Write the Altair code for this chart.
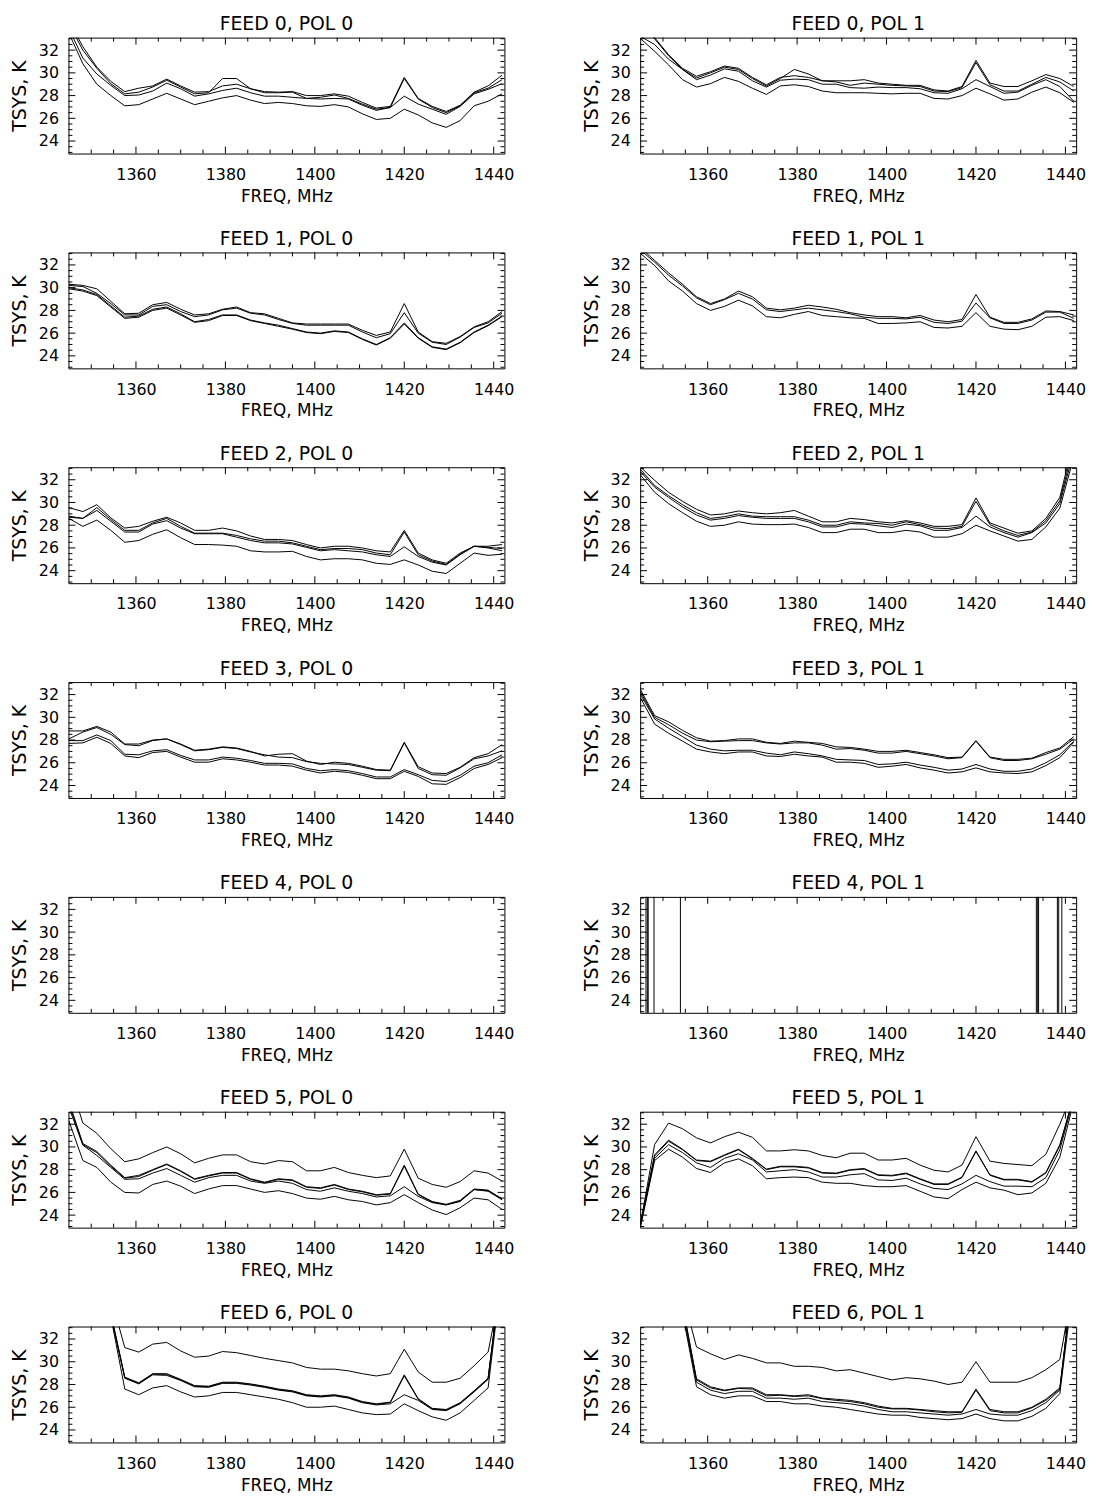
import altair as alt
import pandas as pd

# ---- channel frequencies (MHz) ----
FREQ = [1345.0, 1348.125, 1351.25, 1354.375, 1357.5, 1360.625, 1363.75, 1366.875,
        1370.0, 1373.125, 1376.25, 1379.375, 1382.5, 1385.625, 1388.75, 1391.875,
        1395.0, 1398.125, 1401.25, 1404.375, 1407.5, 1410.625, 1413.75, 1416.875,
        1420.0, 1423.125, 1426.25, 1429.375, 1432.5, 1435.625, 1438.75, 1441.875]

# ---- axis ticks ----
X_MAJOR = [1360, 1380, 1400, 1420, 1440]
X_MINOR = [1350, 1355, 1365, 1370, 1375, 1385, 1390, 1395, 1405, 1410, 1415, 1425, 1430, 1435]
Y_MAJOR = [24, 26, 28, 30, 32]
Y_MINOR = [23.0, 23.5, 24.5, 25.0, 25.5, 26.5, 27.0, 27.5, 28.5, 29.0, 29.5, 30.5, 31.0, 31.5, 32.5, 33.0]

# ---- FEED 0 ----
f0p0_a = [34.6, 32.3, 30.5, 29.25, 28.35, 28.65, 28.85, 29.45, 28.85, 28.3, 28.35, 28.85, 29.0, 28.6, 28.35, 28.3, 28.35, 28.0, 28.0, 28.15, 27.95, 27.4, 26.9, 27.05, 29.6, 27.75, 27.05, 26.6, 27.15, 28.3, 28.85, 29.8]
f0p0_b = [34.3, 32.0, 30.4, 29.05, 28.15, 28.3, 28.75, 29.35, 28.75, 28.15, 28.25, 29.5, 29.5, 28.6, 28.25, 28.25, 28.3, 27.75, 27.85, 28.05, 27.75, 27.25, 26.8, 26.95, 29.5, 27.7, 26.95, 26.5, 27.1, 28.25, 28.65, 29.4]
f0p0_c = [33.9, 31.3, 29.9, 28.9, 28.0, 28.05, 28.4, 29.1, 28.6, 27.95, 28.15, 28.45, 28.65, 28.25, 27.95, 27.95, 27.85, 27.75, 27.7, 27.75, 27.7, 27.15, 26.7, 26.95, 27.95, 27.25, 26.8, 26.35, 27.05, 28.15, 28.55, 29.05]
f0p0_d = [33.5, 30.8, 29.0, 28.0, 27.1, 27.2, 27.7, 28.2, 27.7, 27.2, 27.5, 27.8, 28.0, 27.6, 27.3, 27.4, 27.3, 27.1, 27.05, 27.2, 27.0, 26.4, 25.9, 26.0, 26.8, 26.3, 25.6, 25.2, 25.8, 27.1, 27.5, 28.15]

f0p1_a = [35.0, 33.1, 31.6, 30.4, 29.7, 30.1, 30.6, 30.4, 29.6, 28.95, 29.6, 29.75, 29.6, 29.3, 29.3, 29.3, 29.4, 29.1, 29.0, 28.9, 28.9, 28.5, 28.4, 28.8, 31.1, 29.1, 28.8, 28.8, 29.3, 29.85, 29.5, 28.8]
f0p1_b = [34.8, 33.0, 31.5, 30.3, 29.55, 30.0, 30.5, 30.3, 29.5, 28.85, 29.5, 30.3, 29.9, 29.3, 29.2, 28.9, 29.1, 29.0, 28.9, 28.85, 28.8, 28.4, 28.35, 28.7, 30.9, 28.95, 28.4, 28.4, 29.0, 29.6, 29.2, 28.4]
f0p1_c = [33.2, 32.5, 31.2, 30.3, 29.4, 29.8, 30.35, 30.15, 29.3, 28.75, 29.35, 29.45, 29.4, 29.0, 29.0, 28.7, 28.65, 28.75, 28.7, 28.7, 28.6, 28.25, 28.2, 28.6, 29.4, 28.8, 28.2, 28.3, 28.9, 29.4, 28.8, 27.5]
f0p1_d = [33.0, 31.9, 30.7, 29.4, 28.75, 29.05, 29.6, 29.25, 28.65, 28.1, 28.85, 28.95, 28.8, 28.4, 28.25, 28.25, 28.25, 28.2, 28.15, 28.2, 28.2, 27.75, 27.7, 28.0, 28.65, 28.15, 27.6, 27.7, 28.3, 28.75, 28.25, 27.4]

# ---- FEED 1 ----
f1p0_a = [30.3, 30.2, 29.9, 28.8, 27.7, 27.75, 28.5, 28.7, 28.1, 27.6, 27.7, 28.1, 28.3, 27.8, 27.7, 27.3, 26.9, 26.8, 26.8, 26.8, 26.8, 26.25, 25.8, 26.1, 28.6, 26.1, 25.25, 25.1, 25.7, 26.55, 27.0, 27.9]
f1p0_b = [30.2, 30.1, 29.5, 28.6, 27.6, 27.6, 28.35, 28.5, 27.9, 27.45, 27.6, 28.05, 28.2, 27.75, 27.6, 27.2, 26.85, 26.7, 26.7, 26.7, 26.7, 26.1, 25.6, 25.95, 27.8, 26.0, 25.2, 25.0, 25.65, 26.5, 26.9, 27.75]
f1p0_c = [30.0, 29.8, 29.4, 28.4, 27.4, 27.5, 28.1, 28.3, 27.7, 27.0, 27.2, 27.6, 27.6, 27.15, 26.9, 26.7, 26.4, 26.1, 26.0, 26.2, 26.1, 25.5, 25.0, 25.6, 26.9, 25.6, 24.8, 24.6, 25.2, 26.1, 26.7, 27.5]
f1p0_d = [29.9, 29.7, 29.3, 28.3, 27.3, 27.4, 28.0, 28.2, 27.6, 26.95, 27.1, 27.55, 27.55, 27.1, 26.85, 26.6, 26.35, 26.05, 25.95, 26.15, 26.05, 25.45, 24.95, 25.55, 26.8, 25.55, 24.75, 24.55, 25.15, 26.05, 26.65, 27.45]

f1p1_a = [33.5, 32.4, 31.3, 30.3, 29.2, 28.6, 29.0, 29.7, 29.2, 28.2, 28.05, 28.2, 28.45, 28.3, 28.1, 27.8, 27.6, 27.45, 27.45, 27.35, 27.55, 27.15, 27.0, 27.2, 29.4, 27.4, 26.95, 26.95, 27.25, 27.95, 27.9, 27.6]
f1p1_b = [33.3, 32.25, 31.1, 30.15, 29.1, 28.5, 28.95, 29.5, 29.0, 28.05, 27.9, 28.05, 28.2, 28.05, 27.9, 27.7, 27.4, 27.3, 27.3, 27.25, 27.4, 26.95, 26.85, 27.05, 28.65, 27.35, 26.85, 26.85, 27.15, 27.85, 27.85, 27.3]
f1p1_c = [33.0, 31.95, 30.6, 29.7, 28.6, 28.0, 28.35, 28.9, 28.4, 27.45, 27.35, 27.65, 27.9, 27.55, 27.45, 27.35, 27.3, 26.85, 26.85, 26.9, 27.0, 26.5, 26.45, 26.6, 27.8, 26.6, 26.35, 26.3, 26.6, 27.4, 27.45, 27.1]

# ---- FEED 2 ----
f2p0_a = [29.55, 29.2, 29.8, 28.65, 27.75, 27.9, 28.35, 28.7, 28.2, 27.55, 27.55, 27.75, 27.5, 27.05, 26.75, 26.75, 26.65, 26.3, 26.0, 26.15, 26.15, 26.0, 25.75, 25.65, 27.55, 25.55, 24.95, 24.65, 25.55, 26.15, 26.15, 26.3]
f2p0_b = [28.8, 28.6, 29.55, 28.5, 27.55, 27.55, 28.2, 28.6, 27.9, 27.3, 27.3, 27.3, 27.1, 26.8, 26.6, 26.6, 26.45, 26.15, 25.85, 25.95, 25.95, 25.85, 25.55, 25.4, 27.4, 25.4, 24.85, 24.55, 25.45, 26.15, 26.05, 25.95]
f2p0_c = [28.7, 28.6, 29.3, 28.35, 27.4, 27.4, 28.1, 28.4, 27.75, 27.25, 27.25, 27.25, 26.95, 26.65, 26.45, 26.45, 26.35, 26.05, 25.75, 25.85, 25.75, 25.65, 25.4, 25.25, 26.1, 25.25, 24.75, 24.5, 25.4, 26.15, 26.0, 25.75]
f2p0_d = [28.6, 27.9, 28.45, 27.55, 26.5, 26.65, 27.2, 27.6, 26.9, 26.3, 26.3, 26.25, 26.15, 25.75, 25.65, 25.65, 25.7, 25.25, 24.95, 25.05, 25.05, 24.95, 24.65, 24.55, 24.95, 24.5, 23.95, 23.75, 24.65, 25.55, 25.35, 25.45]

f2p1_a = [33.1, 31.95, 30.9, 30.1, 29.4, 28.9, 29.0, 29.25, 29.1, 29.0, 29.1, 29.3, 28.8, 28.3, 28.3, 28.6, 28.5, 28.3, 28.2, 28.4, 28.2, 27.9, 27.9, 28.05, 30.4, 28.2, 27.75, 27.3, 27.5, 28.6, 30.45, 35.5]
f2p1_b = [32.9, 31.5, 30.6, 29.8, 29.1, 28.6, 28.75, 29.0, 28.8, 28.75, 28.75, 28.75, 28.45, 28.0, 28.0, 28.3, 28.2, 28.15, 28.0, 28.3, 28.05, 27.75, 27.7, 27.9, 30.1, 28.05, 27.5, 27.1, 27.4, 28.4, 30.15, 35.0]
f2p1_c = [32.7, 31.35, 30.45, 29.6, 28.9, 28.45, 28.6, 28.85, 28.7, 28.6, 28.6, 28.6, 28.3, 27.85, 27.85, 28.15, 28.1, 27.95, 27.8, 28.1, 27.95, 27.55, 27.55, 27.8, 28.8, 27.85, 27.35, 26.95, 27.35, 28.2, 29.9, 34.5]
f2p1_d = [32.4, 30.9, 29.9, 29.1, 28.35, 27.9, 28.0, 28.3, 28.1, 28.05, 28.05, 28.1, 27.8, 27.35, 27.35, 27.65, 27.65, 27.35, 27.35, 27.55, 27.4, 26.95, 26.95, 27.25, 28.0, 27.5, 27.05, 26.6, 26.75, 27.85, 29.5, 34.0]

# ---- FEED 3 ----
f3p0_a = [28.8, 28.8, 29.2, 28.7, 27.65, 27.65, 28.0, 28.1, 27.65, 27.1, 27.2, 27.4, 27.3, 27.0, 26.6, 26.75, 26.8, 26.15, 25.85, 26.05, 25.95, 25.7, 25.4, 25.35, 27.8, 25.65, 25.1, 25.05, 25.6, 26.45, 26.8, 27.6]
f3p0_b = [28.1, 28.7, 29.1, 28.5, 27.6, 27.5, 27.95, 28.1, 27.6, 27.05, 27.15, 27.35, 27.25, 26.95, 26.7, 26.5, 26.45, 26.1, 25.95, 25.9, 25.85, 25.6, 25.35, 25.3, 27.75, 25.5, 24.95, 24.9, 25.55, 26.35, 26.6, 27.05]
f3p0_c = [27.95, 27.95, 28.45, 27.95, 26.75, 26.7, 27.05, 27.15, 26.65, 26.25, 26.25, 26.5, 26.4, 26.2, 25.95, 25.95, 25.9, 25.5, 25.3, 25.4, 25.3, 25.05, 24.75, 24.75, 25.4, 24.95, 24.45, 24.35, 24.9, 25.7, 26.0, 26.7]
f3p0_d = [27.7, 27.75, 28.25, 27.7, 26.6, 26.45, 26.9, 27.0, 26.5, 26.05, 26.05, 26.35, 26.25, 26.05, 25.8, 25.8, 25.7, 25.35, 25.1, 25.25, 25.15, 24.9, 24.6, 24.6, 25.25, 24.8, 24.15, 24.1, 24.7, 25.5, 25.85, 26.45]

f3p1_a = [32.4, 30.15, 29.6, 28.85, 28.2, 27.9, 27.95, 28.1, 28.1, 27.8, 27.7, 27.9, 27.8, 27.7, 27.4, 27.35, 27.2, 27.0, 27.0, 27.1, 26.9, 26.7, 26.45, 26.5, 27.95, 26.5, 26.3, 26.3, 26.4, 26.9, 27.3, 28.3]
f3p1_b = [32.2, 30.0, 29.35, 28.6, 28.0, 27.85, 27.9, 27.95, 27.95, 27.75, 27.65, 27.75, 27.75, 27.55, 27.2, 27.25, 27.1, 26.85, 26.85, 27.0, 26.8, 26.6, 26.35, 26.45, 27.9, 26.45, 26.2, 26.2, 26.35, 26.75, 27.2, 28.1]
f3p1_c = [32.0, 29.85, 29.05, 28.3, 27.55, 27.2, 27.05, 27.1, 27.1, 26.85, 26.7, 26.95, 26.8, 26.6, 26.3, 26.25, 26.2, 25.85, 25.9, 26.05, 25.8, 25.6, 25.35, 25.45, 25.85, 25.45, 25.25, 25.25, 25.45, 26.0, 26.7, 27.9]
f3p1_d = [31.7, 29.4, 28.6, 27.9, 27.2, 26.95, 26.8, 26.95, 26.95, 26.6, 26.55, 26.75, 26.6, 26.5, 26.05, 26.05, 25.95, 25.6, 25.7, 25.85, 25.55, 25.35, 25.1, 25.2, 25.55, 25.2, 25.1, 25.05, 25.2, 25.75, 26.45, 27.8]

# ---- FEED 4 (pol 0 empty; pol 1 only off-scale spikes) ----
f4p1_spikes = [1346.2, 1346.5, 1346.7, 1348.0, 1353.9, 1433.5, 1433.8, 1434.0, 1438.2, 1438.5, 1439.2]

# ---- FEED 5 ----
f5p0_a = [36.0, 32.1, 31.2, 29.85, 28.7, 28.95, 29.5, 30.0, 29.4, 28.6, 29.0, 29.3, 29.3, 28.7, 28.5, 28.8, 28.7, 27.9, 27.9, 28.2, 27.75, 27.5, 27.3, 27.45, 29.8, 27.25, 26.7, 26.45, 26.95, 27.9, 27.7, 27.0]
f5p0_b = [34.0, 30.3, 29.6, 28.4, 27.3, 27.5, 28.0, 28.5, 27.9, 27.2, 27.5, 27.75, 27.75, 27.2, 26.9, 27.2, 27.1, 26.5, 26.4, 26.7, 26.3, 26.1, 25.8, 25.9, 28.4, 25.85, 25.2, 24.95, 25.3, 26.3, 26.2, 25.4]
f5p0_e = [33.8, 30.2, 29.5, 28.3, 27.25, 27.4, 27.95, 28.45, 27.85, 27.15, 27.45, 27.7, 27.7, 27.15, 26.85, 27.15, 27.05, 26.45, 26.35, 26.65, 26.25, 26.05, 25.75, 25.85, 28.3, 25.8, 25.15, 24.9, 25.25, 26.25, 26.15, 25.45]
f5p0_c = [33.5, 30.15, 29.25, 28.2, 27.15, 27.2, 27.7, 28.1, 27.5, 26.9, 27.3, 27.5, 27.5, 27.0, 26.8, 27.0, 26.8, 26.25, 26.1, 26.4, 26.1, 25.9, 25.6, 25.7, 26.5, 25.65, 25.1, 24.9, 25.2, 26.25, 26.1, 25.35]
f5p0_d = [32.3, 28.8, 28.2, 26.9, 26.0, 25.95, 26.7, 27.0, 26.55, 25.9, 26.3, 26.6, 26.6, 26.3, 26.0, 26.15, 25.9, 25.5, 25.4, 25.65, 25.35, 25.2, 24.9, 25.1, 25.8, 25.1, 24.45, 24.05, 24.65, 25.5, 25.35, 24.5]

f5p1_a = [23.3, 30.2, 32.1, 31.6, 30.8, 30.35, 30.9, 31.3, 30.85, 29.65, 29.65, 29.75, 29.65, 29.25, 29.05, 29.45, 29.45, 28.85, 28.85, 29.0, 28.4, 27.95, 27.8, 28.4, 30.9, 28.75, 28.55, 28.45, 28.35, 29.35, 32.0, 35.0]
f5p1_b = [23.3, 29.3, 30.6, 29.8, 28.85, 28.75, 29.3, 29.8, 29.0, 28.05, 28.3, 28.3, 28.2, 27.75, 27.7, 28.0, 28.1, 27.55, 27.5, 27.7, 27.2, 26.75, 26.75, 27.35, 29.65, 27.55, 27.15, 27.15, 26.95, 27.75, 30.2, 34.5]
f5p1_e = [23.2, 29.2, 30.5, 29.75, 28.8, 28.7, 29.25, 29.75, 28.95, 28.0, 28.25, 28.25, 28.15, 27.7, 27.65, 27.95, 28.05, 27.5, 27.45, 27.65, 27.15, 26.7, 26.7, 27.3, 29.6, 27.5, 27.1, 27.1, 26.9, 27.7, 30.1, 34.4]
f5p1_c = [23.15, 29.0, 30.2, 29.5, 28.6, 28.2, 29.0, 29.4, 28.85, 27.8, 27.9, 28.0, 27.8, 27.35, 27.35, 27.55, 27.65, 27.1, 27.05, 27.25, 26.75, 26.35, 26.25, 26.75, 27.5, 26.95, 26.55, 26.55, 26.5, 27.3, 29.75, 34.3]
f5p1_d = [23.0, 28.8, 29.8, 29.1, 28.1, 27.75, 28.6, 28.95, 28.35, 27.2, 27.3, 27.35, 27.3, 26.9, 26.8, 26.8, 26.6, 26.5, 26.5, 26.6, 26.1, 25.6, 25.45, 26.25, 26.9, 26.4, 26.2, 25.8, 25.95, 26.8, 29.1, 34.0]

# ---- FEED 6 ----
f6p0_a = [45.0, 42.0, 39.0, 35.7, 31.25, 30.85, 31.55, 31.7, 30.95, 30.4, 30.5, 30.9, 30.8, 30.55, 30.3, 30.1, 29.9, 29.5, 29.35, 29.35, 29.2, 28.95, 28.75, 28.95, 31.1, 29.1, 28.2, 28.2, 28.55, 29.65, 30.85, 37.1]
f6p0_b = [44.0, 41.0, 38.0, 34.3, 28.65, 28.15, 28.95, 28.95, 28.45, 27.9, 27.85, 28.2, 28.2, 28.05, 27.85, 27.6, 27.45, 27.1, 27.0, 27.1, 26.9, 26.5, 26.3, 26.45, 28.85, 26.75, 25.9, 25.8, 26.4, 27.45, 28.55, 38.5]
f6p0_e = [44.0, 41.0, 38.0, 34.2, 28.6, 28.1, 28.9, 28.9, 28.4, 27.85, 27.8, 28.15, 28.15, 28.0, 27.8, 27.55, 27.4, 27.05, 26.95, 27.05, 26.85, 26.45, 26.25, 26.4, 28.75, 26.7, 25.85, 25.75, 26.35, 27.4, 28.5, 38.4]
f6p0_c = [44.0, 41.0, 38.0, 34.1, 28.55, 28.05, 28.85, 28.8, 28.35, 27.8, 27.75, 28.1, 28.1, 27.95, 27.75, 27.5, 27.35, 27.0, 26.9, 27.0, 26.8, 26.4, 26.2, 26.3, 27.1, 26.6, 25.8, 25.7, 26.3, 27.35, 28.45, 38.3]
f6p0_d = [43.0, 40.0, 37.0, 34.0, 27.6, 27.1, 27.7, 27.9, 27.35, 26.9, 27.0, 27.3, 27.3, 27.1, 26.9, 26.7, 26.4, 26.0, 26.0, 26.1, 25.8, 25.5, 25.35, 25.4, 26.3, 25.7, 25.15, 24.85, 25.5, 26.6, 27.7, 38.0]

f6p1_a = [45.0, 42.0, 39.0, 36.0, 31.3, 30.7, 30.2, 30.6, 30.3, 29.9, 29.9, 29.6, 29.6, 29.5, 29.2, 29.3, 29.0, 28.7, 28.4, 28.6, 28.5, 28.3, 28.0, 28.2, 30.0, 28.2, 28.2, 28.2, 28.6, 29.3, 30.2, 37.0]
f6p1_b = [44.0, 41.0, 38.0, 35.0, 28.5, 27.8, 27.5, 27.7, 27.7, 27.1, 27.1, 27.0, 27.1, 26.8, 26.7, 26.6, 26.4, 26.1, 25.9, 25.9, 25.8, 25.7, 25.6, 25.6, 27.6, 25.8, 25.6, 25.6, 26.0, 26.7, 27.7, 38.0]
f6p1_e = [44.0, 41.0, 38.0, 35.0, 28.4, 27.7, 27.45, 27.65, 27.6, 27.0, 27.05, 26.95, 27.0, 26.75, 26.6, 26.5, 26.3, 26.0, 25.85, 25.85, 25.75, 25.6, 25.5, 25.55, 27.5, 25.7, 25.5, 25.5, 25.95, 26.6, 27.6, 37.9]
f6p1_c = [43.0, 40.0, 37.0, 34.5, 28.2, 27.5, 27.2, 27.4, 27.4, 26.8, 26.8, 26.7, 26.8, 26.5, 26.4, 26.3, 26.1, 25.8, 25.6, 25.6, 25.5, 25.4, 25.3, 25.4, 25.8, 25.4, 25.3, 25.3, 25.7, 26.4, 27.5, 38.0]
f6p1_d = [43.0, 40.0, 37.0, 34.3, 27.8, 27.1, 26.8, 27.0, 27.0, 26.5, 26.5, 26.3, 26.3, 26.1, 26.0, 25.8, 25.6, 25.4, 25.3, 25.3, 25.1, 25.0, 24.9, 25.0, 25.4, 25.0, 24.8, 24.8, 25.2, 25.9, 27.2, 37.0]

PANELS = [
    ("FEED 0, POL 0", [f0p0_a, f0p0_b, f0p0_c, f0p0_d], None),
    ("FEED 0, POL 1", [f0p1_a, f0p1_b, f0p1_c, f0p1_d], None),
    ("FEED 1, POL 0", [f1p0_a, f1p0_b, f1p0_c, f1p0_d], None),
    ("FEED 1, POL 1", [f1p1_a, f1p1_b, f1p1_c], None),
    ("FEED 2, POL 0", [f2p0_a, f2p0_b, f2p0_c, f2p0_d], None),
    ("FEED 2, POL 1", [f2p1_a, f2p1_b, f2p1_c, f2p1_d], None),
    ("FEED 3, POL 0", [f3p0_a, f3p0_b, f3p0_c, f3p0_d], None),
    ("FEED 3, POL 1", [f3p1_a, f3p1_b, f3p1_c, f3p1_d], None),
    ("FEED 4, POL 0", [], None),
    ("FEED 4, POL 1", [], f4p1_spikes),
    ("FEED 5, POL 0", [f5p0_a, f5p0_b, f5p0_e, f5p0_c, f5p0_d], None),
    ("FEED 5, POL 1", [f5p1_a, f5p1_b, f5p1_e, f5p1_c, f5p1_d], None),
    ("FEED 6, POL 0", [f6p0_a, f6p0_b, f6p0_e, f6p0_c, f6p0_d], None),
    ("FEED 6, POL 1", [f6p1_a, f6p1_b, f6p1_e, f6p1_c, f6p1_d], None),
]

W, H = 440, 117
FONT = "DejaVu Sans"
XS = alt.Scale(domain=[1344.9, 1442.4], nice=False, zero=False)
YS = alt.Scale(domain=[22.9, 33.1], nice=False, zero=False)
XAX = alt.Axis(values=X_MAJOR, format="d", title="FREQ, MHz", ticks=False, tickSize=0,
               domain=False, grid=False, labelFlush=False, labelPadding=13, titlePadding=6)
YAX = alt.Axis(values=Y_MAJOR, format="d", title="TSYS, K", ticks=False, tickSize=0,
               domain=False, grid=False, labelFlush=False, labelPadding=10, titlePadding=9,
               titleFontSize=19)


def tick_layers():
    layers = []
    for vals, ln in ((X_MAJOR, 7), (X_MINOR, 4)):
        df = pd.DataFrame({"v": vals})
        xe = alt.X("v:Q", scale=XS, axis=XAX)
        layers.append(alt.Chart(df).mark_rule(color="black", strokeWidth=1)
                      .encode(x=xe, y=alt.value(H), y2=alt.value(H - ln)))
        layers.append(alt.Chart(df).mark_rule(color="black", strokeWidth=1)
                      .encode(x=xe, y=alt.value(0), y2=alt.value(ln)))
    for vals, ln in ((Y_MAJOR, 7), (Y_MINOR, 4)):
        df = pd.DataFrame({"v": vals})
        ye = alt.Y("v:Q", scale=YS, axis=YAX)
        layers.append(alt.Chart(df).mark_rule(color="black", strokeWidth=1)
                      .encode(y=ye, x=alt.value(0), x2=alt.value(ln)))
        layers.append(alt.Chart(df).mark_rule(color="black", strokeWidth=1)
                      .encode(y=ye, x=alt.value(W), x2=alt.value(W - ln)))
    return layers


def make_panel(title, series, spikes):
    layers = tick_layers()
    if series:
        rows = [{"f": f, "t": v, "s": k}
                for k, s in enumerate(series) for f, v in zip(FREQ, s)]
        layers.append(
            alt.Chart(pd.DataFrame(rows)).mark_line(color="black", strokeWidth=1, clip=True)
            .encode(x=alt.X("f:Q", scale=XS, axis=XAX),
                    y=alt.Y("t:Q", scale=YS, axis=YAX),
                    detail="s:N"))
    if spikes:
        layers.append(
            alt.Chart(pd.DataFrame({"f": spikes})).mark_rule(color="black", strokeWidth=1)
            .encode(x=alt.X("f:Q", scale=XS, axis=XAX), y=alt.value(0), y2=alt.value(H)))
    return alt.layer(*layers).properties(
        width=W, height=H,
        title=alt.TitleParams(title, fontSize=19, font=FONT, fontWeight="normal",
                              color="black", offset=3, anchor="middle"))


panels = [make_panel(*p) for p in PANELS]
rows = [alt.hconcat(panels[i], panels[i + 1], spacing=67)
        for i in range(0, len(panels), 2)]
chart = alt.vconcat(*rows, spacing=24.8).properties(
    padding={"left": 2, "top": 0, "right": 5, "bottom": 0})
chart = chart.configure_view(stroke="black", strokeWidth=1).configure_axis(
    labelFont=FONT, titleFont=FONT, labelFontSize=16, titleFontSize=17,
    titleFontWeight="normal", labelColor="black", titleColor="black")

chart.save("out.html", embed_options={"renderer": "svg", "actions": False})
